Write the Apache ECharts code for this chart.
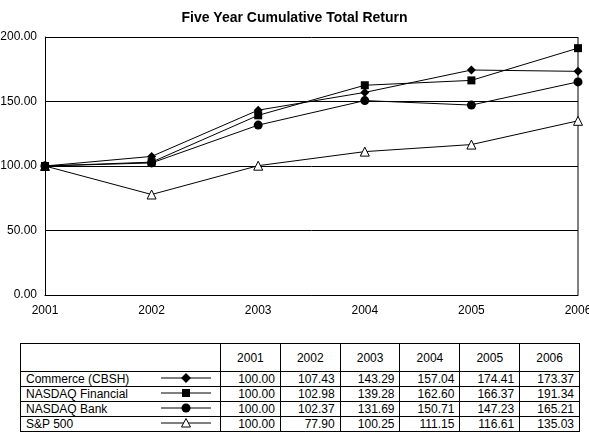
<!DOCTYPE html>
<html><head><meta charset="utf-8">
<script src="https://cdn.jsdelivr.net/npm/echarts@6/dist/echarts.min.js"></script>
<style>
body{margin:0;width:589px;height:441px;font-family:"Liberation Sans",Arial,sans-serif;background:#fff;position:relative}
#c{position:absolute;left:0;top:0;width:589px;height:330px}
table{position:absolute;left:20px;top:343px;border-collapse:collapse;font-size:12px;color:#000;table-layout:fixed;width:560px}
td{border:1px solid #000;padding:0 5px;height:12px;line-height:12px;text-align:right;overflow:hidden;white-space:nowrap}
tr.h td{height:27px;text-align:center}
td.n{text-align:left;border-right:none}
td.m{border-left:none;padding:0}
</style></head><body>
<div id="c"></div>
<table id="t"><colgroup><col style="width:130px"><col style="width:70px"><col><col><col><col><col><col></colgroup><tbody id="b"></tbody></table>
<script>
const years=['2001','2002','2003','2004','2005','2006'];
const names=['Commerce (CBSH)','NASDAQ Financial','NASDAQ Bank','S&P 500'];
const commerce=[100.00,107.43,143.29,157.04,174.41,173.37];
const nasdaqFin=[100.00,102.98,139.28,162.60,166.37,191.34];
const nasdaqBank=[100.00,102.37,131.69,150.71,147.23,165.21];
const sp500=[100.00,77.90,100.25,111.15,116.61,135.03];
const values=[commerce,nasdaqFin,nasdaqBank,sp500];
const symbols=['diamond','rect','circle','triangle'];
const fills=['#000','#000','#000','#fff'];
const sizes=[9,8,9,9];

const chart=echarts.init(document.getElementById('c'));
chart.setOption({
  animation:false,
  textStyle:{fontFamily:'Liberation Sans'},
  title:{text:'Five Year Cumulative Total Return',left:'center',top:6,textStyle:{fontSize:14,fontWeight:'bold',color:'#000'}},
  grid:{left:45,right:11,top:37,bottom:35,containLabel:false,outerBoundsMode:'none'},
  xAxis:{type:'category',data:years,boundaryGap:false,
    axisLine:{lineStyle:{color:'#000'}},axisTick:{show:false},
    axisLabel:{color:'#000',fontSize:12,margin:10},
    splitLine:{show:false}},
  yAxis:{type:'value',min:0,max:200,interval:50,
    axisLine:{show:true,lineStyle:{color:'#000'}},axisTick:{show:false},
    axisLabel:{color:'#000',fontSize:12,formatter:v=>v.toFixed(2)},
    splitLine:{lineStyle:{color:'#000',width:1}}},
  series:values.map((d,i)=>({type:'line',name:names[i],data:d,symbol:symbols[i],symbolSize:sizes[i],
    lineStyle:{color:'#000',width:1},itemStyle:{color:fills[i],borderColor:'#000',borderWidth:i==3?1:0},z:10-i})),
  graphic:[{type:'line',shape:{x1:578,y1:37,x2:578,y2:295},style:{stroke:'#000',lineWidth:1}}]
});

function marker(i){
  let shape;
  if(i==0) shape='<polygon points="35,1 40,6 35,11 30,6" fill="#000"/>';
  else if(i==1) shape='<rect x="31" y="2" width="8" height="8" fill="#000"/>';
  else if(i==2) shape='<circle cx="35" cy="6" r="4.5" fill="#000"/>';
  else shape='<polygon points="35,1.5 39.5,10 30.5,10" fill="#fff" stroke="#000"/>';
  return '<svg width="70" height="12"><line x1="10" y1="6" x2="60" y2="6" stroke="#000"/>'+shape+'</svg>';
}
let h='<tr class="h"><td class="n"></td><td class="m"></td>'+years.map(y=>'<td>'+y+'</td>').join('')+'</tr>';
names.forEach((n,i)=>{
  h+='<tr><td class="n">'+n.replace('&','&amp;')+'</td><td class="m">'+marker(i)+'</td>'+values[i].map(v=>'<td>'+v.toFixed(2)+'</td>').join('')+'</tr>';
});
document.getElementById('b').innerHTML=h;
</script>
</body></html>
